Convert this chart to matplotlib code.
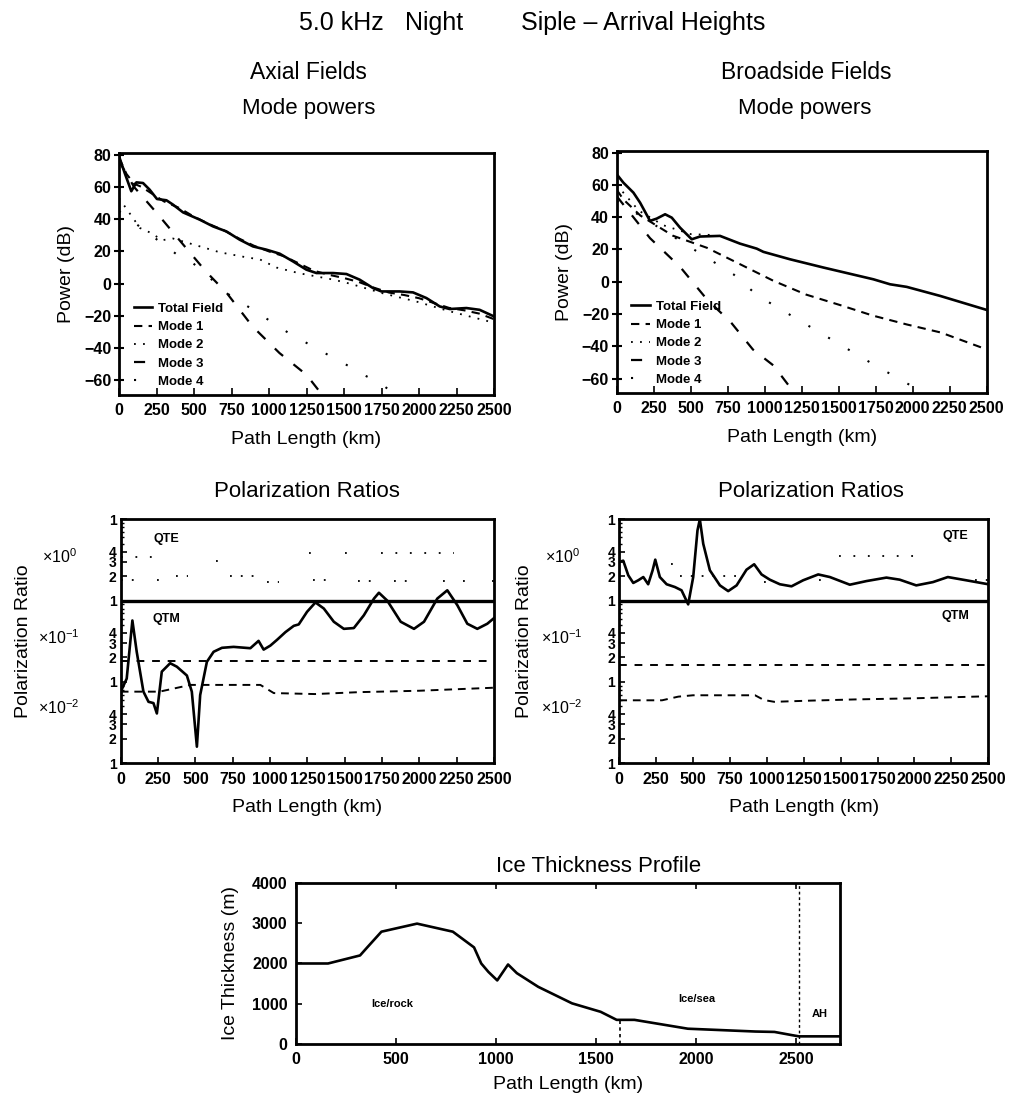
import matplotlib
matplotlib.use("Agg")
import matplotlib.pyplot as plt
import numpy as np
from matplotlib.ticker import FixedLocator, NullFormatter

plt.rcParams['font.family'] = ['Liberation Sans', 'DejaVu Sans']
plt.rcParams['mathtext.fontset'] = 'custom'
plt.rcParams['mathtext.rm'] = 'Liberation Sans'
plt.rcParams['axes.linewidth'] = 2

nan = np.nan

# ---- Mode powers, axial ----
ax_total_km = [0, 38, 82, 116, 160, 204, 253, 316, 360, 427, 538, 627, 716, 804, 893, 982,
               1071, 1160, 1249, 1316, 1427, 1516, 1604, 1693, 1749, 1871, 1960, 2049, 2138,
               2204, 2316, 2404, 2500]
ax_total = [79, 68.6, 57.3, 62.8, 62.4, 58.3, 52.5, 51.7, 49, 44.2, 39.7, 35.5, 32.4, 27.3,
            23.1, 21.1, 18.6, 13.8, 8.7, 6.6, 6.6, 6.0, 2.5, -2.7, -4.8, -4.8, -5.4, -8.9,
            -14.1, -15.7, -15.1, -16.2, -20.3]
ax_m1_km = [0, 50, 100, 150, 200, 300, 400, 500, 600, 700, 800, 900, 1000, 1100, 1200, 1300,
            1400, 1500, 1600, 1700, 1800, 1900, 2000, 2100, 2200, 2300, 2400, 2500]
ax_m1 = [78, 68, 62, 60, 57, 51, 47, 41.5, 37, 33, 28, 23.5, 20, 17, 12.5, 8, 5.5, 3.5, 1,
         -2.5, -5.5, -7, -9, -12, -15, -16.5, -18.5, -22]
ax_m2_km = [0, 140, 200, 290, 360, 580, 670, 840, 940, 1050, 1200, 1430, 1540, 1760, 1980,
            2200, 2470, 2500]
ax_m2 = [53, 34.5, 32, 27, 28, 22, 19.5, 16.5, 15, 10, 6.5, 2.5, 0, -6, -11, -17, -23.5, -24]
ax_m3_km = [0, 100, 250, 430, 580, 720, 890, 1070, 1250, 1330, 1360]
ax_m3 = [76, 60, 44, 24, 7.5, -6, -26.5, -43, -56.5, -66, -70]
ax_m4_km = [0, 430, 490, 760, 840, 1130, 1430, 1530, 1630, 1740, 1830, 1850]
ax_m4 = [45, 15, 13, -9, -13, -30.5, -46, -51, -56.5, -61.5, -68, -70]

# ---- Mode powers, broadside ----
bs_total_km = [0, 45, 113, 158, 225, 270, 327, 372, 428, 507, 563, 698, 833, 946, 991, 1171,
               1396, 1734, 1847, 1959, 2185, 2500]
bs_total = [66.6, 61.4, 55.2, 49, 37.7, 39.1, 41.8, 39.7, 33.5, 26.3, 28, 28.4, 23.6, 20.5,
            18.5, 13.9, 8.8, 1.5, -1.6, -3.2, -8.8, -17.5]
bs_m1_km = [0, 45, 160, 380, 610, 830, 1060, 1280, 1510, 1730, 1960, 2190, 2500]
bs_m1 = [57, 51, 41, 28.5, 21, 11, 0.5, -8, -14.5, -21, -26.5, -31.5, -42]
bs_m2_km = [0, 150, 315, 500, 630]
bs_m2 = [60, 44, 35, 29.5, 29]
bs_m3_km = [0, 225, 430, 610, 770, 920, 1060, 1180, 1230]
bs_m3 = [53, 27, 9, -11, -25, -42, -52, -66.5, -70]
bs_m4_km = [0, 790, 950, 1730, 1990, 2080]
bs_m4 = [50, 4.5, -8.5, -51, -64.5, -70]

# ---- Polarization ratios, axial ----
ax_qtm_km = [0, 40, 78, 107, 152, 186, 219, 242, 275, 331, 376, 443, 476, 510, 532, 577, 622,
             678, 756, 868, 923, 957, 1002, 1047, 1103, 1159, 1192, 1248, 1304, 1360, 1427,
             1494, 1561, 1628, 1696, 1729, 1785, 1875, 1964, 2031, 2120, 2187, 2254, 2321,
             2388, 2455, 2500]
ax_qtm = [0.076, 0.11, 0.57, 0.235, 0.076, 0.057, 0.055, 0.041, 0.134, 0.17, 0.154, 0.12,
          0.076, 0.016, 0.069, 0.177, 0.235, 0.263, 0.27, 0.26, 0.32, 0.25, 0.28, 0.33, 0.41,
          0.49, 0.51, 0.73, 0.95, 0.8, 0.55, 0.45, 0.46, 0.66, 1.06, 1.25, 1.0, 0.55, 0.45,
          0.55, 1.06, 1.34, 0.88, 0.52, 0.45, 0.52, 0.61]
ax_qtm_d1_km = [0, 2500]
ax_qtm_d1 = [0.183, 0.183]
ax_qtm_d2_km = [0, 260, 466, 935, 1025, 1300, 1600, 2000, 2500]
ax_qtm_d2 = [0.076, 0.076, 0.092, 0.092, 0.073, 0.071, 0.075, 0.078, 0.085]
ax_qte_a_km = [0, 280, nan, 640, 670, nan, 1260, 1340, nan, 1500, 1580, nan, 1740, 2230]
ax_qte_a = [3.4, 3.4, nan, 3.1, 3.1, nan, 3.8, 3.8, nan, 3.8, 3.8, nan, 3.8, 3.8]
ax_qte_b_km = [0, 140, nan, 240, 262, nan, 370, 450, nan, 730, 920, nan, 980, 1060, nan,
               1290, 1430, nan, 1590, 1710, nan, 1830, 1970, nan, 2160, 2175, nan, 2295, 2310,
               nan, 2485, 2500]
ax_qte_b = [1.77, 1.77, nan, 1.77, 1.77, nan, 2.0, 2.0, nan, 2.0, 2.0, nan, 1.7, 1.7, nan,
            1.77, 1.77, nan, 1.75, 1.75, nan, 1.75, 1.75, nan, 1.75, 1.75, nan, 1.75, 1.75,
            nan, 1.75, 1.75]

# ---- Polarization ratios, broadside ----
bs_qte_km = [0, 27, 61, 95, 129, 163, 196, 226, 244, 275, 321, 377, 422, 467, 501, 530, 546,
             569, 614, 682, 738, 795, 862, 914, 964, 1020, 1088, 1167, 1246, 1348, 1427, 1562,
             1675, 1810, 1900, 2012, 2125, 2226, 2350, 2500]
bs_qte = [2.99, 3.1, 2.05, 1.65, 1.78, 1.95, 1.59, 2.36, 3.19, 1.95, 1.59, 1.47, 1.34, 0.9,
          1.95, 7.3, 10, 5.0, 2.36, 1.54, 1.31, 1.54, 2.4, 2.8, 2.1, 1.81, 1.59, 1.5, 1.78,
          2.1, 1.95, 1.57, 1.74, 1.92, 1.81, 1.54, 1.69, 1.95, 1.78, 1.59]
bs_qtm_d1_km = [0, 2500]
bs_qtm_d1 = [0.163, 0.163]
bs_qtm_d2_km = [0, 290, 400, 500, 920, 980, 1050, 1300, 1600, 2000, 2500]
bs_qtm_d2 = [0.0595, 0.0595, 0.066, 0.0686, 0.0686, 0.06, 0.057, 0.059, 0.061, 0.063, 0.0667]
bs_qte_a_km = [1490, 2040]
bs_qte_a = [3.5, 3.5]
bs_qte_b_km = [350, 375, nan, 410, 820, nan, 980, 995, nan, 1355, 1405, nan, 2410, 2500]
bs_qte_b = [2.8, 2.8, nan, 2.0, 2.0, nan, 1.7, 1.7, nan, 1.8, 1.8, nan, 1.8, 1.8]

pol_ticks = [0.01, 0.02, 0.03, 0.04, 0.1, 0.2, 0.3, 0.4, 1, 2, 3, 4, 10]
pol_ticklabels = ['1', '2', '3', '4', '1', '2', '3', '4', '1', '2', '3', '4', '1']
pol_decades = [(3.5, r'$\times10^{0}$'), (0.35, r'$\times10^{-1}$'), (0.048, r'$\times10^{-2}$')]

# ---- Ice thickness ----
ice_km = [0, 160, 320, 356, 427, 605, 784, 890, 926, 962, 1006, 1060, 1104, 1211, 1380, 1523,
          1603, 1692, 1959, 2297, 2392, 2480, 2515, 2720]
ice_m = [2000, 2000, 2200, 2400, 2790, 2990, 2790, 2400, 2000, 1790, 1580, 1975, 1760, 1420,
         1010, 800, 600, 600, 380, 310, 300, 220, 190, 190]
sea_edge_km = 1620
ah_km = 2515

fig = plt.figure(figsize=(10.18, 11), dpi=100)

fig.text(0.294, 0.979, '5.0 kHz', ha='left', va='center', fontsize=18)
fig.text(0.398, 0.979, 'Night', ha='left', va='center', fontsize=18)
fig.text(0.512, 0.979, 'Siple \u2013 Arrival Heights', ha='left', va='center', fontsize=18)
fig.text(0.303, 0.934, 'Axial Fields', ha='center', va='center', fontsize=16.5)
fig.text(0.792, 0.934, 'Broadside Fields', ha='center', va='center', fontsize=16.5)
fig.text(0.303, 0.901, 'Mode powers', ha='center', va='center', fontsize=16)
fig.text(0.790, 0.901, 'Mode powers', ha='center', va='center', fontsize=16)
fig.text(0.302, 0.553, 'Polarization Ratios', ha='center', va='center', fontsize=16)
fig.text(0.797, 0.553, 'Polarization Ratios', ha='center', va='center', fontsize=16)

lab_font = dict(fontsize=14)

ax1 = fig.add_axes([0.1169, 0.6409, 0.3684, 0.2200])
ax2 = fig.add_axes([0.6058, 0.6427, 0.3635, 0.2200])
ax3 = fig.add_axes([0.1186, 0.3061, 0.3667, 0.2218])
ax4 = fig.add_axes([0.6083, 0.3061, 0.3625, 0.2218])
ax5 = fig.add_axes([0.2908, 0.0509, 0.5344, 0.1464])


def bold_ticks(ax, size):
    for t in ax.get_xticklabels() + ax.get_yticklabels():
        t.set_fontweight('bold')
        t.set_fontsize(size)


def power_panel(ax, total, m1, m2, m3, m4, leg_x):
    ax.plot(total[0], total[1], color='k', lw=1.9, label='Total Field')
    ax.plot(m1[0], m1[1], color='k', lw=1.5, ls=(0, (4, 3)), label='Mode 1')
    ax.plot(m2[0], m2[1], color='k', lw=1.3, ls=(0, (1, 4)), label='Mode 2')
    ax.plot(m3[0], m3[1], color='k', lw=1.6, ls=(0, (5, 6)), label='Mode 3')
    ax.plot(m4[0], m4[1], color='k', lw=1.5, ls=(0, (1, 10)), label='Mode 4')
    ax.set_xlim(0, 2500)
    ax.set_ylim(-69, 81)
    ax.set_xticks(np.arange(0, 2501, 250))
    ax.set_yticks(np.arange(-60, 81, 20))
    ax.set_yticklabels([f'{v}'.replace('-', '\u2212') for v in range(-60, 81, 20)])
    ax.tick_params(axis='y', direction='inout', length=7, width=1.5, pad=2)
    ax.tick_params(axis='x', direction='in', length=5, width=1.2, pad=6)
    bold_ticks(ax, 11.5)
    ax.set_xlabel('Path Length (km)', **lab_font)
    ax.xaxis.set_label_coords(0.5, -0.15)
    ax.set_ylabel('Power (dB)', **lab_font)
    ax.yaxis.set_label_coords(-0.118, 0.5)
    ax.legend(loc='lower left', bbox_to_anchor=(leg_x, 0.0), frameon=False,
              handlelength=1.4, handletextpad=0.45, labelspacing=0.45, borderaxespad=0.15,
              prop=dict(size=9.5, weight='bold'))


power_panel(ax1, (ax_total_km, ax_total), (ax_m1_km, ax_m1), (ax_m2_km, ax_m2),
            (ax_m3_km, ax_m3), (ax_m4_km, ax_m4), 0.02)
power_panel(ax2, (bs_total_km, bs_total), (bs_m1_km, bs_m1), (bs_m2_km, bs_m2),
            (bs_m3_km, bs_m3), (bs_m4_km, bs_m4), 0.02)


def pol_panel(ax, solid, d1, d2, qa, qb, qte_pos, qtm_pos, dec_x, ylab_x):
    ax.plot(solid[0], solid[1], color='k', lw=1.9)
    ax.plot(d1[0], d1[1], color='k', lw=1.4, ls=(0, (4, 4)))
    ax.plot(d2[0], d2[1], color='k', lw=1.4, ls=(0, (4, 3)))
    ax.plot(qa[0], qa[1], color='k', lw=1.3, ls=(0, (1, 7)))
    ax.plot(qb[0], qb[1], color='k', lw=1.3, ls=(0, (1, 5)))
    ax.axhline(1, color='k', lw=2.4)
    ax.set_yscale('log')
    ax.set_xlim(0, 2500)
    ax.set_ylim(0.01, 10)
    ax.yaxis.set_major_locator(FixedLocator(pol_ticks))
    ax.set_yticklabels(pol_ticklabels)
    minors = [m * 10.0 ** e for e in (-2, -1, 0) for m in range(5, 10)]
    ax.yaxis.set_minor_locator(FixedLocator(minors))
    ax.yaxis.set_minor_formatter(NullFormatter())
    ax.set_xticks(np.arange(0, 2501, 250))
    ax.tick_params(axis='y', which='major', direction='in', length=4, width=1.2, pad=3)
    ax.tick_params(axis='y', which='minor', direction='in', length=2, width=1)
    ax.tick_params(axis='x', direction='in', length=4, width=1.2, pad=6)
    bold_ticks(ax, 11.5)
    for t in ax.get_yticklabels():
        t.set_fontsize(10)
    ax.text(qte_pos[0], qte_pos[1], 'QTE', fontsize=9, fontweight='bold', ha='center',
            va='center')
    ax.text(qtm_pos[0], qtm_pos[1], 'QTM', fontsize=9, fontweight='bold', ha='center',
            va='center')
    for yv, lab in pol_decades:
        ax.text(dec_x, yv, lab, transform=ax.get_yaxis_transform(), fontsize=11.5,
                ha='center', va='center')
    ax.set_xlabel('Path Length (km)', **lab_font)
    ax.xaxis.set_label_coords(0.5, -0.145)
    ax.set_ylabel('Polarization Ratio', **lab_font)
    ax.yaxis.set_label_coords(ylab_x, 0.5)


pol_panel(ax3, (ax_qtm_km, ax_qtm), (ax_qtm_d1_km, ax_qtm_d1), (ax_qtm_d2_km, ax_qtm_d2),
          (ax_qte_a_km, ax_qte_a), (ax_qte_b_km, ax_qte_b), (308, 5.8), (308, 0.6),
          -0.165, -0.238)
pol_panel(ax4, (bs_qte_km, bs_qte), (bs_qtm_d1_km, bs_qtm_d1), (bs_qtm_d2_km, bs_qtm_d2),
          (bs_qte_a_km, bs_qte_a), (bs_qte_b_km, bs_qte_b), (2280, 6.2), (2280, 0.64),
          -0.155, -0.234)

# ---- ice profile ----
ax5.plot(ice_km, ice_m, color='k', lw=1.9)
ax5.plot([sea_edge_km, sea_edge_km], [0, 600], color='k', lw=1.2, ls=(0, (2, 2)))
ax5.axvline(ah_km, color='k', lw=1.0, ls=(0, (2, 2)))
ax5.set_xlim(0, 2720)
ax5.set_ylim(0, 4000)
ax5.set_xticks(np.arange(0, 2501, 500))
ax5.set_yticks(np.arange(0, 4001, 1000))
ax5.tick_params(axis='both', direction='in', length=4, width=1.2, top=True, pad=6)
bold_ticks(ax5, 11.5)
ax5.text(480, 1000, 'Ice/rock', fontsize=8, fontweight='bold', ha='center', va='center')
ax5.text(2003, 1130, 'Ice/sea', fontsize=8, fontweight='bold', ha='center', va='center')
ax5.text(2620, 750, 'AH', fontsize=8, fontweight='bold', ha='center', va='center')
ax5.set_xlabel('Path Length (km)', **lab_font)
ax5.xaxis.set_label_coords(0.5, -0.2)
ax5.set_ylabel('Ice Thickness (m)', **lab_font)
ax5.yaxis.set_label_coords(-0.105, 0.5)
fig.text(0.588, 0.212, 'Ice Thickness Profile', ha='center', va='center', fontsize=16)

fig.savefig('out.png', dpi=100)
